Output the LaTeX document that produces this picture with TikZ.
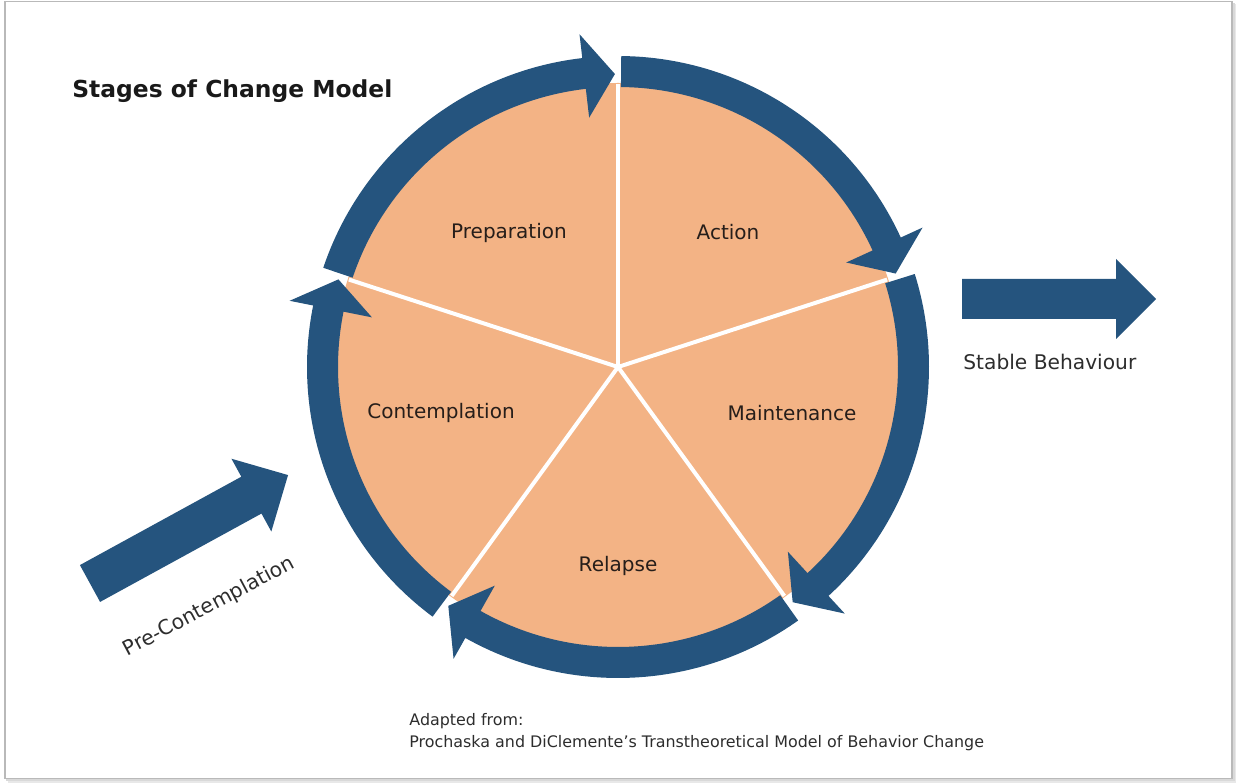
\documentclass[tikz,border=0pt]{standalone}
\usepackage{fontspec}
\setmainfont{DejaVu Sans}
\definecolor{peach}{RGB}{243,179,133}
\definecolor{navy}{RGB}{37,84,126}
\definecolor{labeltxt}{RGB}{38,30,26}
\definecolor{greytxt}{RGB}{45,45,45}
\newcommand{\ringarrow}[2]{%
  \fill[navy] (#1:311) arc[start angle=#1, end angle=#2+6, radius=311]
    -- (#2+6:335) -- (#2:293) -- (#2+6:251) -- (#2+6:280)
    arc[start angle=#2+6, end angle=#1, radius=280] -- cycle;}
\begin{document}
\begin{tikzpicture}[x=0.5pt,y=0.5pt,
  stage/.style={text=labeltxt, font=\fontsize{10}{12}\selectfont, inner sep=0pt},
  note/.style={text=greytxt, inner sep=0pt, anchor=west}]
\useasboundingbox (0,0) rectangle (1236,782);
% frame with soft shadow
\draw[gray!18, line width=2pt] (8,0.5) -- (1235,0.5) -- (1235,778);
\draw[gray!30, line width=1pt] (6,2) -- (1233.5,2) -- (1233.5,779);
\draw[gray!55, line width=0.7pt] (5,3.5) rectangle (1232,780.5);
% title
\node[anchor=west, inner sep=0pt, text=black!90, font=\bfseries\fontsize{11.7}{14}\selectfont] (title) at (72,691) {Stages of Change Model};
% wheel
\begin{scope}[shift={(618,415)}]
  \fill[peach] (0,0) circle[radius=284];
  \foreach \t in {90,18,-54,-126,162} \draw[white, line width=2pt] (0,0) -- (\t:283);
  \ringarrow{161.4}{90.6}
  \ringarrow{89.4}{18.6}
  \ringarrow{17.4}{-53.4}
  \ringarrow{-54.6}{-125.4}
  \ringarrow{-126.6}{-197.4}
\end{scope}
% stage labels
\node[stage] (prep) at (509,549) {Preparation};
\node[stage] (act) at (728,550) {Action};
\node[stage] (cont) at (441,369) {Contemplation};
\node[stage] (maint) at (792,369) {Maintenance};
\node[stage] (rel) at (618,216) {Relapse};
% stable behaviour arrow
\fill[navy] (962,503) -- (1116,503) -- (1116,523) -- (1156,483) -- (1116,443) -- (1116,463) -- (962,463) -- cycle;
\node[note, font=\fontsize{10.1}{12}\selectfont] (stable) at (963,420) {Stable Behaviour};
% pre-contemplation arrow
\begin{scope}[shift={(90,198.5)}, rotate=28.7]
  \fill[navy] (0,21) -- (184,21) -- (184,41.5) -- (225.8,0) -- (184,-41.5) -- (184,-21) -- (0,-21) -- cycle;
\end{scope}
\node[text=greytxt, inner sep=0pt, rotate=28, font=\fontsize{10.2}{12}\selectfont] (precont) at (209,175) {Pre-Contemplation};
% footer
\node[note, font=\fontsize{7.95}{9.5}\selectfont] (adapted) at (409,61) {Adapted from:};
\node[note, font=\fontsize{7.95}{9.5}\selectfont] (source) at (409,39) {Prochaska and DiClemente's Transtheoretical Model of Behavior Change};
\end{tikzpicture}
\end{document}
